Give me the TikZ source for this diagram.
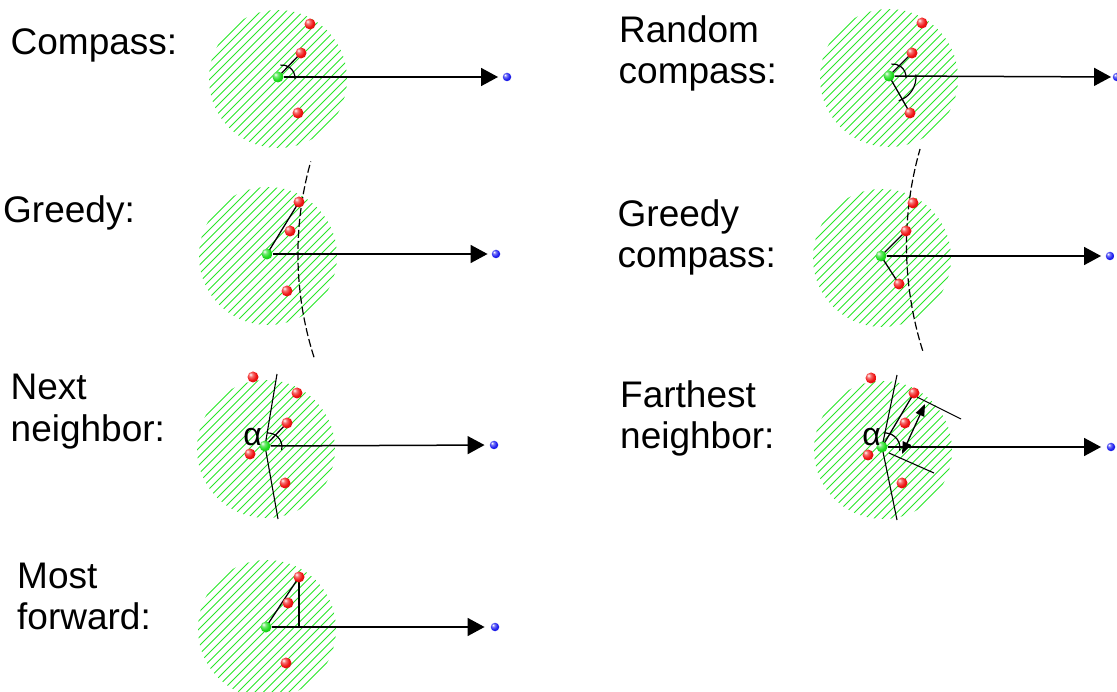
\documentclass[tikz,border=0pt]{standalone}
\usepackage{fontspec}
\setmainfont{Liberation Sans}
\usetikzlibrary{arrows.meta}

\pgfdeclarelayer{hatching}
\pgfdeclarelayer{lines}
\pgfsetlayers{hatching,lines,main}

\definecolor{hatchgreen}{RGB}{40,230,40}
\definecolor{ballred}{RGB}{240,20,20}
\definecolor{ballgreen}{RGB}{30,220,30}
\definecolor{ballblue}{RGB}{30,30,240}

% glossy spheres
\pgfdeclareradialshading{redsphere}{\pgfqpoint{-12bp}{12bp}}{%
  color(0bp)=(white); color(9bp)=(ballred!60!white); color(22bp)=(ballred);
  color(42bp)=(ballred!80!black); color(62bp)=(ballred!60!black)}
\pgfdeclareradialshading{greensphere}{\pgfqpoint{-12bp}{12bp}}{%
  color(0bp)=(white); color(9bp)=(ballgreen!60!white); color(22bp)=(ballgreen);
  color(42bp)=(ballgreen!80!black); color(62bp)=(ballgreen!60!black)}
\pgfdeclareradialshading{bluesphere}{\pgfqpoint{-12bp}{12bp}}{%
  color(0bp)=(white); color(9bp)=(ballblue!60!white); color(22bp)=(ballblue);
  color(42bp)=(ballblue!80!black); color(62bp)=(ballblue!60!black)}

% hatched radio range around a node
\newcommand\hatchdisc[1]{%
  \begin{scope}
    \clip (#1) circle[radius=69];
    \foreach \k in {-13,...,13}
      \draw[hatch] ([shift={({\k*8.5-110},110)}]#1) -- ++(220,-220);
  \end{scope}}

\begin{document}
\begin{tikzpicture}[x=1pt,y=-1pt,
  hatch/.style={hatchgreen,line width=1pt},
  ball/.style={circle,inner sep=0pt,minimum size=11pt},
  redball/.style={ball,shading=redsphere},
  greenball/.style={ball,shading=greensphere},
  blueball/.style={ball,shading=bluesphere,minimum size=8.5pt},
  lbl/.style={font=\fontsize{37}{41}\selectfont,inner sep=0pt,anchor=base west},
  greek/.style={font=\fontsize{32}{36}\selectfont,inner sep=0pt},
  link/.style={line width=1.3pt,black},
  goal/.style={line width=1.5pt,black,-{Triangle[length=17pt,width=18pt]}},
  guide/.style={line width=1.1pt,black},
  anglearc/.style={line width=1.2pt,black},
  dasharc/.style={line width=1.2pt,black,dash pattern=on 8pt off 3pt},
  span/.style={line width=1.3pt,black,{Triangle[length=12pt,width=9pt]}-{Triangle[length=12pt,width=9pt]}}
]
\useasboundingbox (0,0) rectangle (1117,692);

% ---------------- labels
\node[lbl] (lcompass) at (10.5,54.5) {Compass:};
\node[lbl] (lrandom1) at (619,42.7) {Random};
\node[lbl] (lrandom2) at (618.5,83.3) {compass:};
\node[lbl] (lgreedy) at (3,222.7) {Greedy:};
\node[lbl] (lgc1) at (617.5,226.7) {Greedy};
\node[lbl] (lgc2) at (617.5,267.3) {compass:};
\node[lbl] (lnn1) at (10.5,400) {Next};
\node[lbl] (lnn2) at (10.5,441.7) {neighbor:};
\node[lbl] (lfn1) at (620,408) {Farthest};
\node[lbl] (lfn2) at (620,449) {neighbor:};
\node[lbl] (lmf1) at (17,588) {Most};
\node[lbl] (lmf2) at (17,629) {forward:};

% ---------------- range centres
\coordinate (c1) at (278,79);
\coordinate (c2) at (889,78);
\coordinate (c3) at (268,256);
\coordinate (c4) at (882,258);
\coordinate (c5) at (266,449);
\coordinate (c6) at (883,450);
\coordinate (c7) at (267,629);

\begin{pgfonlayer}{hatching}
  \hatchdisc{c1}\hatchdisc{c2}\hatchdisc{c3}\hatchdisc{c4}
  \hatchdisc{c5}\hatchdisc{c6}\hatchdisc{c7}
\end{pgfonlayer}

% ---------------- Compass
\node[greenball] (g1) at (278,77) {};
\node[redball] (r1a) at (310,24) {};
\node[redball] (r1b) at (301,53) {};
\node[redball] (r1c) at (298,113) {};
\node[blueball] (b1) at (507,77) {};

% ---------------- Random compass
\node[greenball] (g2) at (889,76) {};
\node[redball] (r2a) at (922,23) {};
\node[redball] (r2b) at (912,53) {};
\node[redball] (r2c) at (910,113) {};
\node[blueball] (b2) at (1117,77) {};

% ---------------- Greedy
\node[greenball] (g3) at (267,254) {};
\node[redball] (r3a) at (299,202) {};
\node[redball] (r3b) at (290,231) {};
\node[redball] (r3c) at (287,291) {};
\node[blueball] (b3) at (496,254) {};

% ---------------- Greedy compass
\node[greenball] (g4) at (881,256) {};
\node[redball] (r4a) at (913,203) {};
\node[redball] (r4b) at (906,231) {};
\node[redball] (r4c) at (899,284) {};
\node[blueball] (b4) at (1110,256) {};

% ---------------- Next neighbor
\node[greenball] (g5) at (265,446) {};
\node[redball] (r5a) at (253,377) {};
\node[redball] (r5b) at (297,393) {};
\node[redball] (r5c) at (287,423) {};
\node[redball] (r5d) at (250,454) {};
\node[redball] (r5e) at (285,483) {};
\node[blueball] (b5) at (494,445) {};
\coordinate (n5top) at (277,374);
\coordinate (n5bot) at (278,519);
\node[greek] (alpha5) at (252.5,437.5) {α};

% ---------------- Farthest neighbor
\node[greenball] (g6) at (882,447) {};
\node[redball] (r6a) at (871,378) {};
\node[redball] (r6b) at (914,393) {};
\node[redball] (r6c) at (905,423) {};
\node[redball] (r6d) at (868,455) {};
\node[redball] (r6e) at (902,483) {};
\node[blueball] (b6) at (1111,447) {};
\coordinate (n6top) at (897,375);
\coordinate (n6bot) at (897,520);
\coordinate (p6a) at (917,397);
\coordinate (p6b) at (961,419);
\coordinate (p6c) at (889,453);
\coordinate (p6d) at (934,473);
\coordinate (s6a) at (902,454);
\coordinate (s6b) at (925,404);
\node[greek] (alpha6) at (871.5,437.5) {α};

% ---------------- Most forward
\node[greenball] (g7) at (266,627) {};
\node[redball] (r7a) at (299,577) {};
\node[redball] (r7b) at (288,603) {};
\node[redball] (r7c) at (286,663) {};
\node[blueball] (b7) at (495,627) {};
\coordinate (foot7) at (299,627);

\begin{pgfonlayer}{lines}
  % direction to the destination
  \draw[goal,shorten >=4.5pt] (g1) -- (b1);
  \draw[goal,shorten >=1.5pt] (g2) -- (b2);
  \draw[goal,shorten >=4pt] (g3) -- (b3);
  \draw[goal,shorten >=4.5pt] (g4) -- (b4);
  \draw[goal,shorten >=5pt] (g5) -- (b5);
  \draw[goal,shorten >=5.5pt] (g6) -- (b6);
  \draw[goal,shorten >=6pt] (g7) -- (b7);

  % compass
  \draw[link] (g1.center) -- (r1b.center);
  \draw[anglearc] ([shift={(4,1)}]g1.center) ++(5:13) arc[start angle=5,end angle=-97,radius=13];

  % random compass
  \draw[link] (g2.center) -- (r2b.center);
  \draw[link] (g2.center) -- (r2c.center);
  \draw[anglearc] ([shift={(4,1)}]g2.center) ++(5:13) arc[start angle=5,end angle=-97,radius=13];
  \draw[anglearc] ([shift={(2,1)}]g2.center) ++(-6:25) arc[start angle=-6,end angle=72,radius=25];

  % greedy
  \draw[link] (g3.center) -- (r3a.center);
  \draw[dasharc] (314,357.2) arc[start angle=162.3,end angle=195.8,radius=339.5];

  % greedy compass
  \draw[link] (g4.center) -- (r4b.center);
  \draw[link] (g4.center) -- (r4c.center);
  \draw[dasharc] (922.7,350.7) arc[start angle=162.5,end angle=196,radius=350];

  % next neighbor
  \draw[guide] (n5top) -- (g5.center) -- (n5bot);
  \draw[link] (g5.center) -- (r5c.center);
  \draw[anglearc] ([shift={(3,1)}]g5.center) ++(13:14) arc[start angle=13,end angle=-93,radius=14];

  % farthest neighbor
  \draw[guide] (n6top) -- (g6.center) -- (n6bot);
  \draw[link] (g6.center) -- (r6b.center);
  \draw[guide] (p6a) -- (p6b);
  \draw[guide] (p6c) -- (p6d);
  \draw[span] (s6a) -- (s6b);
  \draw[anglearc] ([shift={(3,1)}]g6.center) ++(10:15) arc[start angle=10,end angle=-95,radius=15];

  % most forward
  \draw[link] (g7.center) -- (r7a.center);
  \draw[link] (r7a.center) -- (foot7);
\end{pgfonlayer}
\end{tikzpicture}
\end{document}
